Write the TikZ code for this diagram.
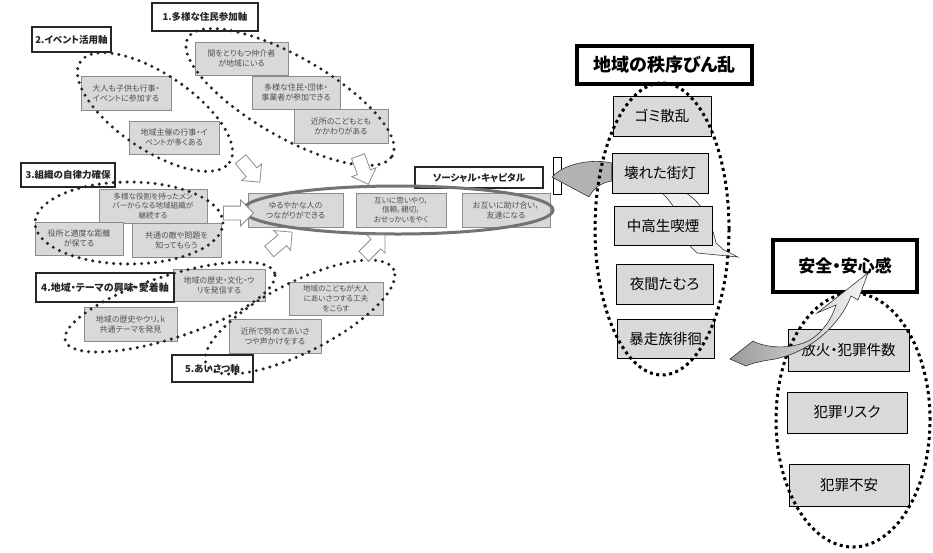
\documentclass[tikz,border=0pt]{standalone}
\usepackage{fontspec}
\setmainfont[RawFeature=+palt]{Noto Sans CJK JP}
\usetikzlibrary{shapes.arrows}
\definecolor{lbox}{HTML}{D9D9D9}
\definecolor{lborder}{HTML}{8C8C8C}
\definecolor{ltext}{HTML}{505050}
\definecolor{rbox}{HTML}{D9D9D9}
\begin{document}
\begin{tikzpicture}[x=1pt,y=-1pt,
  lb/.style={draw=lborder, fill=lbox, line width=0.8pt, text=ltext, inner sep=0pt, align=center, font=\fontsize{8}{10}\selectfont},
  lbs/.style={lb, font=\fontsize{7.6}{9.6}\selectfont},
  lt/.style={draw=black!85, fill=white, line width=2.2pt, inner sep=0pt, text=black!85, font=\bfseries\fontsize{9.5}{11}\selectfont},
  rb/.style={draw=black, fill=rbox, line width=0.8pt, inner sep=0pt, font=\fontsize{14.5}{17}\selectfont},
  rt/.style={draw=black, fill=white, line width=4pt, inner sep=0pt, font=\bfseries\fontsize{18}{20}\selectfont},
  ldots/.style={line width=3.4pt, dash pattern=on 0pt off 7pt, line cap=round, black!85},
  rdots/.style={line width=3pt, dash pattern=on 3pt off 3.5pt, black},
  hollow/.style={single arrow, draw=black!45, fill=white, line width=0.8pt, minimum height=30pt, single arrow head extend=6pt, inner sep=0pt}
]
\useasboundingbox (0,0) rectangle (933,552);

% ---- left boxes ----
\node[lb, minimum width=93pt, minimum height=33pt] (b1a) at (241.5,58.5) {間をとりもつ仲介者\\が地域にいる};
\node[lb, minimum width=88pt, minimum height=33pt] (b1b) at (296,92.5) {多様な住民・団体・\\事業者が参加できる};
\node[lb, minimum width=94pt, minimum height=34pt] (b1c) at (341,126) {近所のこどもとも\\かかわりがある};
\node[lb, minimum width=90pt, minimum height=34pt] (b2a) at (126,93) {大人も子供も行事・\\イベントに参加する};
\node[lb, minimum width=90pt, minimum height=33pt] (b2b) at (174,137.5) {地域主催の行事・イ\\ベントが多くある};
\node[lbs, minimum width=108pt, minimum height=34pt] (b3a) at (153,206) {多様な役割を持ったメン\\バーからなる地域組織が\\継続する};
\node[lb, minimum width=88pt, minimum height=33pt] (b3b) at (79,238.5) {役所と適度な距離\\が保てる};
\node[lb, minimum width=89pt, minimum height=34pt] (b3c) at (176.5,240) {共通の敵や問題を\\知ってもらう};
\node[lb, minimum width=92pt, minimum height=32pt] (b4a) at (219,285) {地域の歴史・文化・ウ\\リを発信する};
\node[lb, minimum width=93pt, minimum height=34pt] (b4b) at (130.5,324) {地域の歴史やウリ，k\\共通テーマを発見};
\node[lbs, minimum width=94pt, minimum height=33pt] (b5a) at (336,298.5) {地域のこどもが大人\\にあいさつする工夫\\をこらす};
\node[lb, minimum width=92pt, minimum height=34pt] (b5b) at (275,336) {近所で努めてあいさ\\つや声かけをする};
\node[lb, minimum width=95pt, minimum height=34pt] (sc1) at (295.5,210) {ゆるやかな人の\\つながりができる};
\node[lbs, minimum width=90pt, minimum height=34pt] (sc2) at (401,210) {互いに思いやり，\\信頼，親切，\\おせっかいをやく};
\node[lb, minimum width=88pt, minimum height=34pt] (sc3) at (506,210) {お互いに助け合い，\\友達になる};

% ---- left titles ----
\node[lt, minimum width=106pt, minimum height=28pt] (t1) at (205,17) {1.多様な住民参加軸};
\node[lt, minimum width=79pt, minimum height=25pt] (t2) at (71.5,39.5) {2.イベント活用軸};
\node[lt, minimum width=94pt, minimum height=24pt] (t3) at (68,175) {3.組織の自律力確保};
\node[lt, minimum width=138pt, minimum height=29pt, font=\bfseries\fontsize{10}{12}\selectfont] (t4) at (105,287.5) {4.地域・テーマの興味・愛着軸};
\node[lt, minimum width=81pt, minimum height=27pt] (t5) at (212.5,368.5) {5.あいさつ軸};
\node[lt, minimum width=128pt, minimum height=21pt, line width=2pt] (tsc) at (479,177.5) {ソーシャル・キャピタル};

% ---- ellipses (left) ----
\draw[line width=3pt, draw=black!55] (398,210) ellipse [x radius=155pt, y radius=24pt];
\draw[ldots, rotate around={-30:(290,97)}] (290,97) ellipse [x radius=118pt, y radius=40pt];
\draw[ldots, rotate around={-34:(155,112)}] (155,112) ellipse [x radius=90pt, y radius=38pt];
\draw[ldots] (129,223) ellipse [x radius=94pt, y radius=41pt];
\draw[ldots, rotate around={18:(170,307)}] (170,307) ellipse [x radius=110pt, y radius=31pt];
\draw[ldots, rotate around={27:(300,317)}] (300,317) ellipse [x radius=105pt, y radius=35pt];

% ---- hollow arrows ----
\node[hollow, rotate=-50] (a1) at (248,168) {\rule{0pt}{13pt}};
\node[hollow, rotate=-70] (a2) at (362,167) {\rule{0pt}{13pt}};
\node[hollow, rotate=0] (a3) at (235,213) {\rule{0pt}{13pt}};
\node[hollow, rotate=40] (a4) at (278,244) {\rule{0pt}{13pt}};
\node[hollow, rotate=45] (a5) at (372,248) {\rule{0pt}{13pt}};

% ---- right part ----
\filldraw[fill=black!6, draw=black!80, line width=0.6pt] (662,193) -- (686,193) .. controls (705,205) and (712,225) .. (716,243) -- (724,250) -- (738,257) -- (697,253) -- (689,245) .. controls (685,225) and (675,205) .. cycle;

\node[rt, minimum width=175pt, minimum height=38pt] (rt1) at (664.5,65) {地域の秩序びん乱};
\node[rb, minimum width=98pt, minimum height=40pt] (r1) at (662,116) {ゴミ散乱};
\node[rb, minimum width=96pt, minimum height=40pt] (r2) at (660,173) {壊れた街灯};
\node[rb, minimum width=98pt, minimum height=39pt] (r3) at (663,225.5) {中高生喫煙};
\node[rb, minimum width=97pt, minimum height=40pt] (r4) at (664.5,284) {夜間たむろ};
\node[rb, minimum width=97pt, minimum height=39pt] (r5) at (665.5,338.5) {暴走族徘徊};

\node[draw=black, fill=white, line width=0.8pt, minimum width=8pt, minimum height=37pt, inner sep=0pt] (br) at (557,175.5) {};
\filldraw[fill=black!30, draw=black!80, line width=0.6pt] (r2.west |- 0,163) .. controls (595,159) and (566,162) .. (552,177) -- (589,197) .. controls (593,189) and (600,183) .. (r2.west |- 0,181) -- cycle;

\node[rt, minimum width=144pt, minimum height=52pt, font=\bfseries\fontsize{17}{20}\selectfont] (st) at (845,266) {安全・安心感};
\node[rb, minimum width=121pt, minimum height=42pt] (s1) at (848.5,350) {放火・犯罪件数};
\node[rb, minimum width=120pt, minimum height=41pt] (s2) at (847,412.5) {犯罪リスク};
\node[rb, minimum width=120pt, minimum height=42pt] (s3) at (849,485) {犯罪不安};

\draw[rdots] (662,229) ellipse [x radius=67pt, y radius=146pt];
\draw[rdots] (853,420) ellipse [x radius=77pt, y radius=127pt];

\path[draw=black!80, line width=0.6pt, left color=black!40, right color=black!3]
  (730,359) -- (753,341) .. controls (765,348) and (792,350) .. (810,340)
  .. controls (824,331) and (832,318) .. (836,305)
  -- (817,313) -- (868,273) -- (858,300) -- (851,296)
  .. controls (840,325) and (810,352) .. (775,359)
  .. controls (762,361) and (752,363) .. (746,366) -- cycle;
\end{tikzpicture}
\end{document}
